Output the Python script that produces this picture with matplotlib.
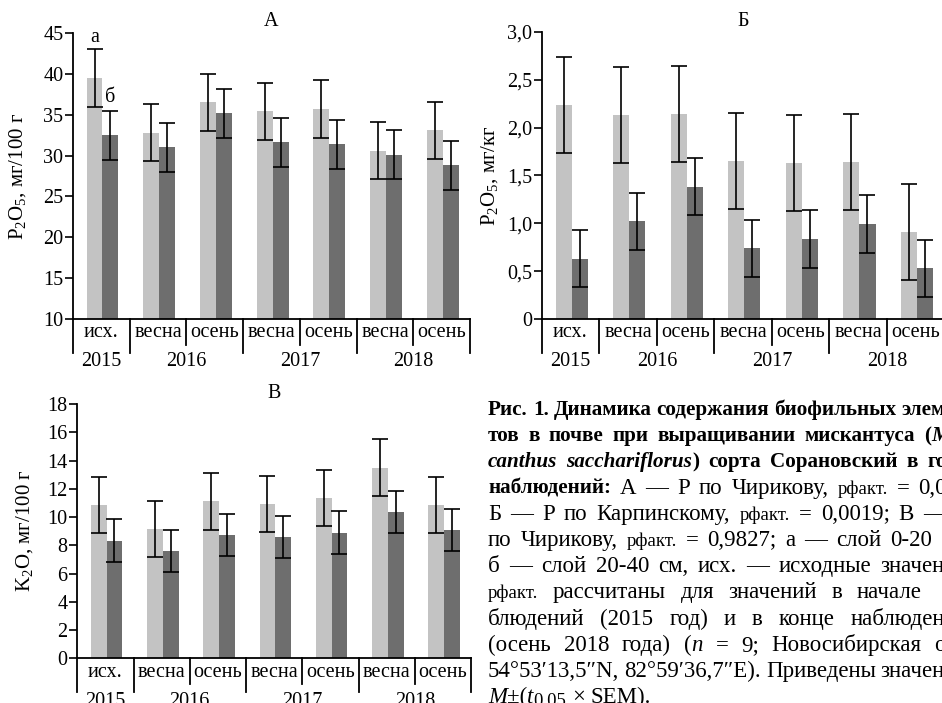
import numpy as np
import matplotlib
matplotlib.use('Agg')
import matplotlib.pyplot as plt

plt.rcParams['font.family'] = ['Liberation Serif', 'DejaVu Serif']
plt.rcParams['mathtext.fontset'] = 'custom'
plt.rcParams['mathtext.rm'] = 'Liberation Serif'
plt.rcParams['mathtext.it'] = 'Liberation Serif:italic'

W, H = 942, 703

seasons = ['исх.', 'весна', 'осень', 'весна', 'осень', 'весна', 'осень']
years = ['2015', '2016', '2017', '2018']
year_pos = [0.5, 2.0, 4.0, 6.0]
year_bounds = [0, 1, 3, 5, 7]
season_bounds = [2, 4, 6]

# A - P по Чирикову, мг/100 г
pA_top = [39.5, 32.8, 36.5, 35.4, 35.7, 30.6, 33.1]
pA_top_err = [3.5, 3.5, 3.5, 3.5, 3.5, 3.45, 3.5]
pA_low = [32.5, 31.0, 35.2, 31.6, 31.4, 30.1, 28.8]
pA_low_err = [3.0, 3.0, 3.0, 3.0, 3.0, 3.0, 3.0]

# Б - P по Карпинскому, мг/кг
pB_top = [2.24, 2.13, 2.14, 1.65, 1.63, 1.64, 0.91]
pB_top_err = [0.5, 0.5, 0.5, 0.5, 0.5, 0.5, 0.5]
pB_low = [0.63, 1.02, 1.385, 0.74, 0.835, 0.995, 0.53]
pB_low_err = [0.3, 0.3, 0.3, 0.3, 0.3, 0.3, 0.3]

# В - K по Чирикову, мг/100 г
k_top = [10.85, 9.15, 11.1, 10.92, 11.33, 13.5, 10.85]
k_top_err = [2.0, 2.0, 2.0, 2.0, 2.0, 2.0, 2.0]
k_low = [8.33, 7.6, 8.74, 8.6, 8.9, 10.37, 9.07]
k_low_err = [1.5, 1.5, 1.5, 1.5, 1.5, 1.5, 1.5]

light = '#c3c3c3'
dark = '#6e6e6e'

fig = plt.figure(figsize=(W / 100, H / 100), dpi=100)


def panel(l, r, t, b, top, top_err, low, low_err, ylim, yticks, yticklabels,
          title, ylab, ylab_x):
    ax = fig.add_axes([l / W, 1 - b / H, (r - l) / W, (b - t) / H])
    x = np.arange(7) + 0.52
    ekw = dict(ecolor='black', elinewidth=1.2, capthick=1.2)
    ax.bar(x - 0.14, top, 0.28, color=light, yerr=top_err, capsize=6, error_kw=ekw)
    ax.bar(x + 0.14, low, 0.28, color=dark, yerr=low_err, capsize=6, error_kw=ekw)
    ax.set_xlim(0, 7)
    ax.set_ylim(*ylim)
    ax.set_yticks(yticks)
    ax.set_yticklabels(yticklabels)
    ax.set_xticks([])
    for s in ['top', 'right']:
        ax.spines[s].set_visible(False)
    for s in ['left', 'bottom']:
        ax.spines[s].set_linewidth(1.3)
    ax.tick_params(axis='y', direction='out', length=6, width=1.2, labelsize=14.5, pad=1)
    hpx = b - t
    tr = ax.get_xaxis_transform()
    for xb in year_bounds:
        ax.plot([xb, xb], [0, -34 / hpx], color='black', lw=1.3, transform=tr, clip_on=False)
    for xb in season_bounds:
        ax.plot([xb, xb], [0, -26 / hpx], color='black', lw=1.3, transform=tr, clip_on=False)
    for i, s in enumerate(seasons):
        ax.text(i + 0.5, -14 / hpx, s, transform=tr, ha='center', va='center', fontsize=14.5)
    for xp, yr in zip(year_pos, years):
        ax.text(xp, -43 / hpx, yr, transform=tr, ha='center', va='center', fontsize=14.5)
    fig.text((l + r) / 2 / W, 1 - (t - 11) / H, title, ha='center', va='center', fontsize=14.5)
    fig.text(ylab_x / W, 1 - (t + b) / 2 / H, ylab, rotation=90, ha='center', va='center', fontsize=15)
    return ax


axA = panel(73, 470, 33, 319, pA_top, pA_top_err, pA_low, pA_low_err, (10, 45),
            range(10, 46, 5), [str(v) for v in range(10, 46, 5)], 'А',
            r'P$_\mathregular{2}$O$_\mathregular{5}$, мг/100 г', 18)
axA.text(0.52 - 0.14, 44.4, 'а', ha='center', va='center', fontsize=14.5)
axA.text(0.52 + 0.14, 37.1, 'б', ha='center', va='center', fontsize=14.5)

bticks = [0, 0.5, 1.0, 1.5, 2.0, 2.5, 3.0]
panel(541.7, 944.6, 32, 319, pB_top, pB_top_err, pB_low, pB_low_err, (0, 3),
      bticks, ['0', '0,5', '1,0', '1,5', '2,0', '2,5', '3,0'], 'Б',
      r'P$_\mathregular{2}$O$_\mathregular{5}$, мг/кг', 490)

panel(77.3, 471, 404, 658.3, k_top, k_top_err, k_low, k_low_err, (0, 18),
      range(0, 19, 2), [str(v) for v in range(0, 19, 2)], 'В',
      r'K$_\mathregular{2}$O, мг/100 г', 25)

# caption: * bold, _ italic, ~ small, # small subscript
caption = [
    ('*Рис. 1. Динамика содержания биофильных элем*', 946),
    ('*тов в почве при выращивании мискантуса (_M_*', 950),
    ('*_canthus sacchariflorus_) сорта Сорановский в го*', 947),
    ('*наблюдений:* А — Р по Чирикову, ~рфакт.~ = 0,0', 947),
    ('Б — Р по Карпинскому, ~рфакт.~ = 0,0019; В —', 946),
    ('по Чирикову, ~рфакт.~ = 0,9827; а — слой 0-20', 932),
    ('б — слой 20-40 см, исх. — исходные значен', 945),
    ('~рфакт.~ рассчитаны для значений в начале', 922),
    ('блюдений (2015 год) и в конце наблюден', 945),
    ('(осень 2018 года) (_n_ = 9; Новосибирская о', 946),
    ('54°53′13,5″N, 82°59′36,7″E). Приведены значен', 945),
    ('_M_±(_t_#0.05# × SEM).', None),
]


def parse(line):
    words, runs = [], []
    buf = ''
    st = {'b': False, 'i': False, 's': False, 'u': False}
    for ch in line:
        if ch in '*_~# ':
            if buf:
                runs.append((buf, dict(st)))
                buf = ''
            if ch == '*':
                st['b'] = not st['b']
            elif ch == '_':
                st['i'] = not st['i']
            elif ch == '~':
                st['s'] = not st['s']
            elif ch == '#':
                st['u'] = not st['u']
            elif runs:
                words.append(runs)
                runs = []
        else:
            buf += ch
    if buf:
        runs.append((buf, dict(st)))
    if runs:
        words.append(runs)
    return words


def run_size(st):
    if st['s'] or st['u']:
        return 13.5
    if st['b']:
        return 15.2
    return 16.5


fig.canvas.draw()
rend = fig.canvas.get_renderer()
x0 = 488
for k, (line, right) in enumerate(caption):
    base = 415 + 26.2 * k
    words = parse(line)
    placed = []
    widths = []
    for runs in words:
        wt = []
        ww = 0
        for txt, st in runs:
            y = base + (3 if st['u'] else 0)
            t = fig.text(0, 1 - y / H, txt, ha='left', va='baseline',
                         fontsize=run_size(st),
                         fontweight='bold' if st['b'] else 'normal',
                         fontstyle='italic' if st['i'] else 'normal')
            w = t.get_window_extent(rend).width
            wt.append((t, w))
            ww += w
        placed.append(wt)
        widths.append(ww)
    if right is None or len(words) < 2:
        gap = 5.5
    else:
        gap = max(3.0, (right - x0 - sum(widths)) / (len(words) - 1))
    x = x0
    for wt in placed:
        for t, w in wt:
            t.set_x(x / W)
            x += w
        x += gap

fig.savefig('out.png', dpi=100)
